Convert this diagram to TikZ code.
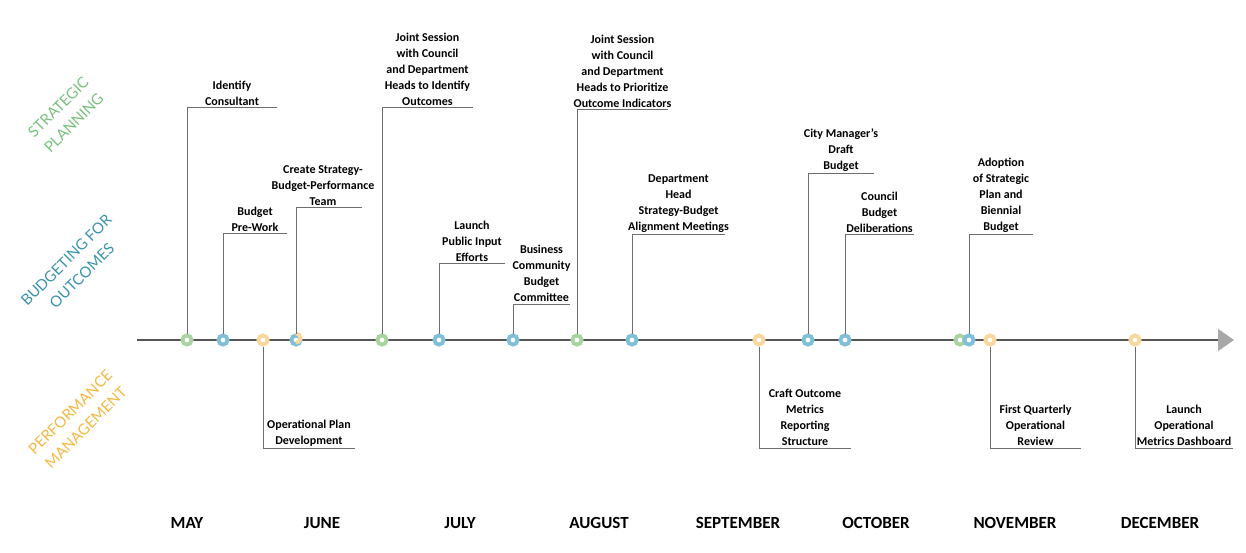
\documentclass[tikz,border=0pt]{standalone}
\usepackage{fontspec}
\setmainfont{Carlito}
\newfontfamily\catfont{Lato}
\usetikzlibrary{arrows.meta}
\definecolor{sgreen}{HTML}{A9D3A1}
\definecolor{sblue}{HTML}{7FBFD8}
\definecolor{syellow}{HTML}{F8D89C}
\definecolor{catgreen}{HTML}{78C07C}
\definecolor{catblue}{HTML}{3A93AE}
\definecolor{catyellow}{HTML}{F4B740}
\definecolor{leadgray}{HTML}{6E6E6E}
\definecolor{axisgray}{HTML}{555555}
\definecolor{tipgray}{HTML}{A8A8A8}
\tikzset{
  dot/.style={circle, draw=#1, fill=white, line width=3.8pt, minimum size=9.2pt, inner sep=0pt},
  lead/.style={draw=leadgray, line width=1pt},
  lbl/.style={font=\bfseries\fontsize{12}{16}\selectfont, align=center, anchor=south, inner sep=1.5pt},
  month/.style={font=\bfseries\fontsize{17}{17}\selectfont},
  cat/.style={font=\catfont\fontsize{15}{22}\selectfont, align=center, rotate=45, text=#1},
}
\begin{document}
\begin{tikzpicture}[x=1pt, y=1pt]
  \useasboundingbox (0,0) rectangle (1246,552);
  % Categorie
  \node[cat=catgreen] (sp) at (66,437) {STRATEGIC\\PLANNING};
  \node[cat=catblue] (bo) at (74,284) {BUDGETING FOR\\OUTCOMES};
  \node[cat=catyellow] (pm) at (78,132) {PERFORMANCE\\MANAGEMENT};
  % Asse
  \coordinate (start) at (137,212);
  \coordinate (finish) at (1234,212);
  \draw[draw=axisgray, line width=1.6pt, -{Triangle[length=16pt, width=22pt, color=tipgray]}] (start) -- (finish);
  % Punti
  \node[dot=sgreen] (d1) at (187,212) {};
  \node[dot=sblue] (d2) at (223,212) {};
  \node[dot=syellow] (d3) at (263,212) {};
  \node[dot=sblue] (d4) at (296,212) {};
  \draw[draw=syellow, line width=3.8pt] (d4.north) arc (90:-90:4.6pt);
  \node[dot=sgreen] (d5) at (382,212) {};
  \node[dot=sblue] (d6) at (439,212) {};
  \node[dot=sblue] (d7) at (513,212) {};
  \node[dot=sgreen] (d8) at (577,212) {};
  \node[dot=sblue] (d9) at (632,212) {};
  \node[dot=syellow] (d10) at (759,212) {};
  \node[dot=sblue] (d11) at (808,212) {};
  \node[dot=sblue] (d12) at (845,212) {};
  \node[dot=sgreen] (d13) at (960,212) {};
  \node[dot=sblue] (d14) at (969,212) {};
  \node[dot=syellow] (d15) at (990,212) {};
  \node[dot=syellow] (d16) at (1135,212) {};
  % Estremi dei richiami
  \coordinate (e1) at (277,444);
  \coordinate (e2) at (287,318);
  \coordinate (e3) at (355,104);
  \coordinate (e4) at (362,344);
  \coordinate (e5) at (473,444);
  \coordinate (e6) at (505,288);
  \coordinate (e7) at (570,248);
  \coordinate (e8) at (668,442);
  \coordinate (e9) at (725,317);
  \coordinate (e10) at (851,104);
  \coordinate (e11) at (874,378);
  \coordinate (e12) at (914,317);
  \coordinate (e14) at (1033,317);
  \coordinate (e15) at (1081,104);
  \coordinate (e16) at (1233,104);
  % Richiami
  \draw[lead] (d1) |- (e1) node[lbl, pos=0.75] (t1) {Identify\\Consultant};
  \draw[lead] (d2) |- (e2) node[lbl, pos=0.75] (t2) {Budget\\Pre-Work};
  \draw[lead] (d3) |- (e3) node[lbl, pos=0.75] (t3) {Operational Plan\\Development};
  \draw[lead] (d4) |- (e4) node[lbl, pos=0.75, xshift=-6pt] (t4) {Create Strategy-\\Budget-Performance\\Team};
  \draw[lead] (d5) |- (e5) node[lbl, pos=0.75] (t5) {Joint Session\\with Council\\and Department\\Heads to Identify\\Outcomes};
  \draw[lead] (d6) |- (e6) node[lbl, pos=0.75] (t6) {Launch\\Public Input\\Efforts};
  \draw[lead] (d7) |- (e7) node[lbl, pos=0.75] (t7) {Business\\Community\\Budget\\Committee};
  \draw[lead] (d8) |- (e8) node[lbl, pos=0.75] (t8) {Joint Session\\with Council\\and Department\\Heads to Prioritize\\Outcome Indicators};
  \draw[lead] (d9) |- (e9) node[lbl, pos=0.75] (t9) {Department\\Head\\Strategy-Budget\\Alignment Meetings};
  \draw[lead] (d10) |- (e10) node[lbl, pos=0.75] (t10) {Craft Outcome\\Metrics\\Reporting\\Structure};
  \draw[lead] (d11) |- (e11) node[lbl, pos=0.75] (t11) {City Manager’s\\Draft\\Budget};
  \draw[lead] (d12) |- (e12) node[lbl, pos=0.75] (t12) {Council\\Budget\\Deliberations};
  \draw[lead] (d14) |- (e14) node[lbl, pos=0.75] (t14) {Adoption\\of Strategic\\Plan and\\Biennial\\Budget};
  \draw[lead] (d15) |- (e15) node[lbl, pos=0.75] (t15) {First Quarterly\\Operational\\Review};
  \draw[lead] (d16) |- (e16) node[lbl, pos=0.75] (t16) {Launch\\Operational\\Metrics Dashboard};
  % Mesi
  \node[month] (m1) at (187,29) {MAY};
  \node[month] (m2) at (322,29) {JUNE};
  \node[month] (m3) at (460,29) {JULY};
  \node[month] (m4) at (599,29) {AUGUST};
  \node[month] (m5) at (738,29) {SEPTEMBER};
  \node[month] (m6) at (876,29) {OCTOBER};
  \node[month] (m7) at (1015,29) {NOVEMBER};
  \node[month] (m8) at (1160,29) {DECEMBER};
\end{tikzpicture}
\end{document}
